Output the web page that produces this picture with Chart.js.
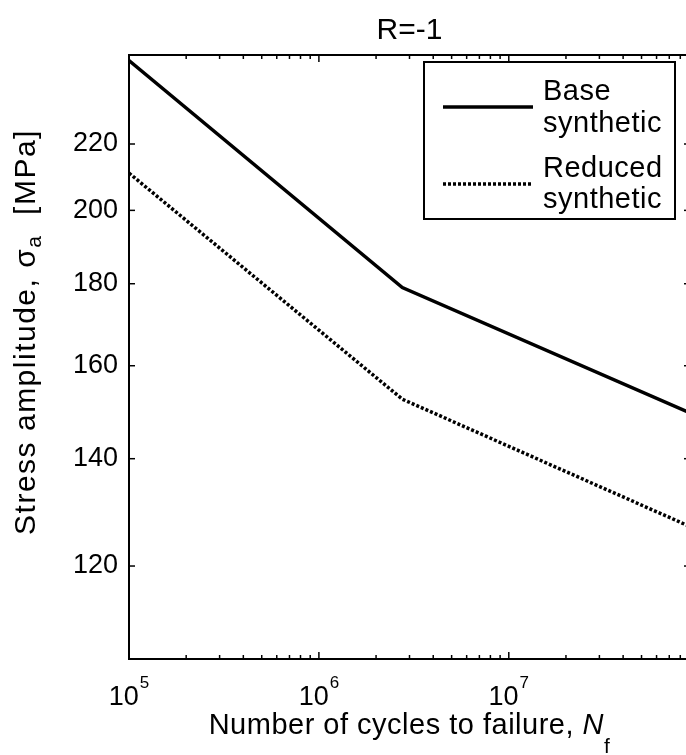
<!DOCTYPE html>
<html lang="en">
<head>
<meta charset="UTF-8">
<title>S-N curves, R=-1</title>
<script src="https://cdn.jsdelivr.net/npm/chart.js"></script>
<style>
    html, body { margin: 0; padding: 0; background: #fff; }
    .wrap { width: 686px; height: 755px; overflow: hidden; }
    canvas { display: block; }
</style>
</head>
<body>
<div class="wrap">
    <canvas id="snChart" width="692" height="755"></canvas>
</div>
<script>
    // values
    const cycles = [1e5, 2.75e6, 9e7];
    const baseSynthetic = [248, 179, 149.5];
    const reducedSynthetic = [211, 152.5, 127];
    const seriesNames = [['Base', 'synthetic'], ['Reduced', 'synthetic']];
    const xMajorTicks = [1e5, 1e6, 1e7];
    const yTicks = [120, 140, 160, 180, 200, 220];
    const xRange = [1e5, 9e7];
    const yRange = [105, 250];

    const FONT = '"Liberation Sans", Arial, Helvetica, sans-serif';

    function toPoints(ys) {
        return cycles.map((c, i) => ({ x: c, y: ys[i] }));
    }

    // all decade sub-ticks (2..9 x 10^n) inside the x range
    function xTickValues() {
        const vals = [];
        for (let e = Math.floor(Math.log10(xRange[0])); e <= Math.ceil(Math.log10(xRange[1])); e++) {
            for (let m = 1; m <= 9; m++) {
                const v = m * Math.pow(10, e);
                if (v >= xRange[0] && v <= xRange[1]) vals.push(v);
            }
        }
        return vals;
    }

    function line(ctx, x1, y1, x2, y2) {
        ctx.beginPath();
        ctx.moveTo(x1, y1);
        ctx.lineTo(x2, y2);
        ctx.stroke();
    }

    // draws a list of [text, font, dy] pieces centred on x=0 along the baseline
    function drawPieces(ctx, pieces, spacing) {
        ctx.letterSpacing = spacing + 'px';
        const widths = pieces.map(p => { ctx.font = p[1]; return ctx.measureText(p[0]).width; });
        let x = -widths.reduce((a, b) => a + b, 0) / 2;
        pieces.forEach((p, i) => {
            ctx.font = p[1];
            ctx.fillText(p[0], x, p[2]);
            x += widths[i];
        });
        ctx.letterSpacing = '0px';
    }

    const decorations = {
        id: 'decorations',
        afterDraw(chart) {
            const ctx = chart.ctx;
            const area = chart.chartArea;
            const xs = chart.scales.x;
            const ys = chart.scales.y;
            ctx.save();
            ctx.strokeStyle = '#000';
            ctx.fillStyle = '#000';

            // top border of the box
            ctx.lineWidth = 2;
            line(ctx, area.left, area.top, area.right, area.top);

            // inward tick marks
            ctx.lineWidth = 1.5;
            xs.ticks.forEach(t => {
                const px = xs.getPixelForValue(t.value);
                const major = Math.abs(Math.log10(t.value) - Math.round(Math.log10(t.value))) < 1e-9;
                const len = major ? 7 : 4;
                line(ctx, px, area.bottom, px, area.bottom - len);
                line(ctx, px, area.top, px, area.top + len);
            });
            ys.ticks.forEach(t => {
                const py = ys.getPixelForValue(t.value);
                line(ctx, area.left, py, area.left + 6, py);
                line(ctx, area.right, py, area.right - 6, py);
            });

            // x tick labels as 10^n
            ctx.textBaseline = 'alphabetic';
            ctx.textAlign = 'left';
            xMajorTicks.forEach(v => {
                const px = xs.getPixelForValue(v);
                const exp = String(Math.round(Math.log10(v)));
                ctx.font = '27px ' + FONT;
                const w1 = ctx.measureText('10').width;
                ctx.font = '17px ' + FONT;
                const w2 = ctx.measureText(exp).width;
                const start = px - (w1 + 1 + w2) / 2;
                ctx.font = '27px ' + FONT;
                ctx.fillText('10', start, 705);
                ctx.font = '17px ' + FONT;
                ctx.fillText(exp, start + w1 + 1, 688);
            });

            // x axis title
            ctx.save();
            ctx.translate((area.left + area.right) / 2, 734);
            drawPieces(ctx, [
                ['Number of cycles to failure, ', '29px ' + FONT, 0],
                ['N', 'italic 29px ' + FONT, 0],
                ['f', '21px ' + FONT, 19]
            ], 0.5);
            ctx.restore();

            // y axis title, rotated
            ctx.save();
            ctx.translate(35, 332);
            ctx.rotate(-Math.PI / 2);
            drawPieces(ctx, [
                ['Stress amplitude, \u03c3', '30px ' + FONT, 0],
                ['a', '21px ' + FONT, 6],
                ['  [MPa]', '30px ' + FONT, 0]
            ], 1.5);
            ctx.restore();

            // legend box
            const box = { left: area.right - 266, top: area.top + 7, width: 251, height: 157 };
            ctx.fillStyle = '#fff';
            ctx.fillRect(box.left, box.top, box.width, box.height);
            ctx.fillStyle = '#000';
            ctx.lineWidth = 2;
            ctx.strokeRect(box.left, box.top, box.width, box.height);
            const rows = [45, 122];
            const baselines = [[38, 70], [115, 146]];
            chart.data.datasets.forEach((ds, i) => {
                ctx.lineWidth = ds.borderWidth;
                ctx.setLineDash(ds.borderDash || []);
                line(ctx, box.left + 19, box.top + rows[i], box.left + 109, box.top + rows[i]);
                ctx.setLineDash([]);
                ctx.font = '29px ' + FONT;
                ctx.letterSpacing = '0.5px';
                seriesNames[i].forEach((txt, k) => {
                    ctx.fillText(txt, box.left + 119, box.top + baselines[i][k]);
                });
                ctx.letterSpacing = '0px';
            });
            ctx.restore();
        }
    };

    const ctx = document.getElementById('snChart').getContext('2d');
    new Chart(ctx, {
        type: 'line',
        data: {
            datasets: [{
                label: 'Base synthetic',
                data: toPoints(baseSynthetic),
                borderColor: '#000',
                borderWidth: 3.5,
                borderJoinStyle: 'miter',
                pointRadius: 0,
                fill: false,
                tension: 0
            }, {
                label: 'Reduced synthetic',
                data: toPoints(reducedSynthetic),
                borderColor: '#000',
                borderWidth: 3.5,
                borderDash: [3, 2],
                borderJoinStyle: 'miter',
                pointRadius: 0,
                fill: false,
                tension: 0
            }]
        },
        options: {
            responsive: false,
            animation: false,
            layout: { padding: { left: 0, right: 2, top: 0, bottom: 0 } },
            plugins: {
                legend: { display: false },
                tooltip: { enabled: false },
                title: {
                    display: true,
                    text: 'R=-1',
                    fullSize: false,
                    color: '#000',
                    font: { family: FONT, size: 30, weight: 'normal' },
                    padding: { top: 13, bottom: 6 }
                }
            },
            scales: {
                x: {
                    type: 'logarithmic',
                    min: xRange[0],
                    max: xRange[1],
                    grid: { display: false, drawTicks: false },
                    border: { display: true, color: '#000', width: 2 },
                    ticks: { display: false },
                    afterBuildTicks: s => { s.ticks = xTickValues().map(v => ({ value: v })); },
                    afterFit: s => { s.height = 96; }
                },
                y: {
                    type: 'logarithmic',
                    min: yRange[0],
                    max: yRange[1],
                    grid: { display: false, drawTicks: false },
                    border: { display: true, color: '#000', width: 2 },
                    ticks: {
                        color: '#000',
                        padding: 11,
                        font: { family: FONT, size: 27 },
                        callback: v => String(v)
                    },
                    afterBuildTicks: s => { s.ticks = yTicks.map(v => ({ value: v })); },
                    afterFit: s => { s.width = 129; }
                }
            }
        },
        plugins: [decorations]
    });
</script>
</body>
</html>
